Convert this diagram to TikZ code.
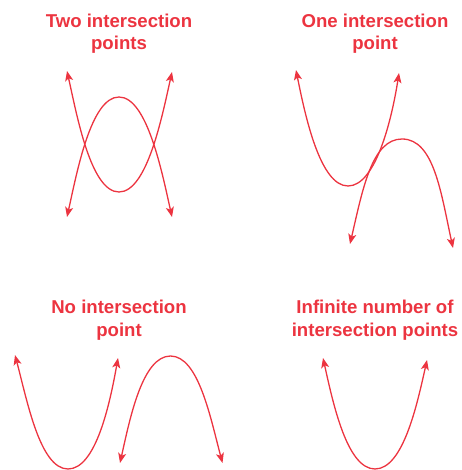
\documentclass[tikz,border=0pt]{standalone}
\usepackage{fontspec}
\setmainfont{Liberation Sans}
\usetikzlibrary{arrows.meta}
\definecolor{cred}{RGB}{236,52,64}
\begin{document}
\begin{tikzpicture}[x=1pt,y=-1pt,
  tip/.tip={Stealth[length=10pt,width=8pt,inset=2.5pt]},
  curve/.style={draw=cred, line width=1.3pt, {tip}-{tip}},
  title/.style={text=cred, font=\fontsize{18.6}{22.5}\selectfont\bfseries, align=center, anchor=base, inner sep=0pt}]
\useasboundingbox (0,0) rectangle (461,470);
\clip (0,0) rectangle (461,470);
% panel 1
\node[title] (t1) at (119,50) {Two intersection\\points};
\coordinate (a1) at (67,71); \coordinate (a2) at (119,192); \coordinate (a3) at (172,72);
\draw[curve] (a1) .. controls +(10,45) and +(-28,0) .. (a2) .. controls +(28,0) and +(-10,45) .. (a3);
\coordinate (b1) at (67,217); \coordinate (b2) at (119,97); \coordinate (b3) at (172,217);
\draw[curve] (b1) .. controls +(10,-45) and +(-28,0) .. (b2) .. controls +(28,0) and +(-10,-45) .. (b3);
% panel 2
\node[title] (t2) at (375,50) {One intersection\\point};
\coordinate (c1) at (296,70); \coordinate (c2) at (348,186); \coordinate (c3) at (399,73);
\draw[curve] (c1) .. controls +(9,45) and +(-28,0) .. (c2) .. controls +(28,0) and +(-7,45) .. (c3);
\coordinate (d1) at (350,244); \coordinate (d2) at (402,139); \coordinate (d3) at (453,248);
\draw[curve] (d1) .. controls +(12.7,-55) and +(-30,0) .. (d2) .. controls +(32,0) and +(-12,-55) .. (d3);
% panel 3
\node[title] (t3) at (119,336) {No intersection\\point};
\coordinate (e1) at (15,355); \coordinate (e2) at (68,469); \coordinate (e3) at (118,358);
\draw[curve] (e1) .. controls +(12,45) and +(-28,0) .. (e2) .. controls +(28,0) and +(-8,45) .. (e3);
\coordinate (f1) at (120,463); \coordinate (f2) at (170.5,356); \coordinate (f3) at (222.5,463);
\draw[curve] (f1) .. controls +(10,-45) and +(-28,0) .. (f2) .. controls +(28,0) and +(-12,-45) .. (f3);
% panel 4
\node[title] (t4) at (375,336) {Infinite number of\\intersection points};
\coordinate (g1) at (323,358); \coordinate (g2) at (375,469); \coordinate (g3) at (427,360);
\draw[curve] (g1) .. controls +(10,45) and +(-28,0) .. (g2) .. controls +(28,0) and +(-10,45) .. (g3);
\end{tikzpicture}
\end{document}
